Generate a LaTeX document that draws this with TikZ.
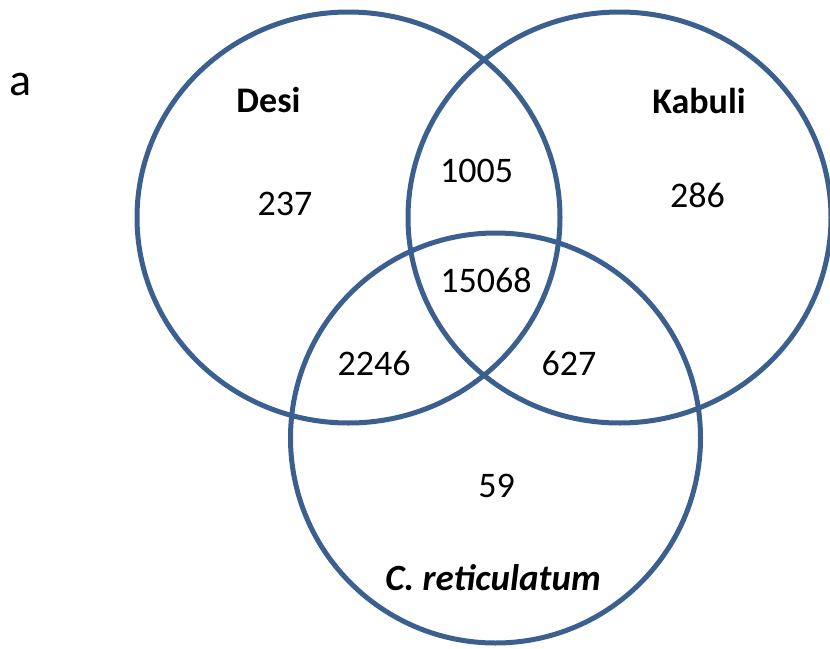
\documentclass[tikz,border=0pt]{standalone}
\usepackage{fontspec}
\setmainfont{Carlito}
\usetikzlibrary{shapes.geometric}
\definecolor{vennblue}{HTML}{3B5F8F}
\begin{document}
\begin{tikzpicture}[x=1pt,y=-1pt,
  setring/.style={draw=vennblue, line width=5pt, ellipse, inner sep=0pt, outer sep=0pt},
  count/.style={font=\fontsize{36}{40}\selectfont, inner sep=0pt, anchor=base},
  setname/.style={font=\fontsize{36}{40}\selectfont\bfseries, inner sep=0pt, anchor=base}]
\useasboundingbox (0,0) rectangle (830,648);
\node[setring, minimum width=423pt, minimum height=411pt] (desi) at (348.5,217.5) {};
\node[setring, minimum width=423pt, minimum height=411pt] (kabuli) at (619.5,217.5) {};
\node[setring, minimum width=410pt, minimum height=410pt] (cret) at (495.5,438) {};
\node[font=\fontsize{46}{50}\selectfont, inner sep=0pt, anchor=base] (panel) at (21,95) {a};
\node[setname] (ldesi) at (268.5,112) {Desi};
\node[setname] (lkab) at (699,113) {Kabuli};
\node[setname, font=\fontsize{37}{40}\selectfont\bfseries\itshape] (lcret) at (493,590.5) {C. reticulatum};
\node[count] (n237) at (285,215) {237};
\node[count] (n286) at (697.5,207) {286};
\node[count] (n1005) at (476.5,182) {1005};
\node[count] (n15068) at (486,292) {15068};
\node[count] (n2246) at (374,375.5) {2246};
\node[count] (n627) at (569,375.5) {627};
\node[count] (n59) at (496.5,497) {59};
\end{tikzpicture}
\end{document}
